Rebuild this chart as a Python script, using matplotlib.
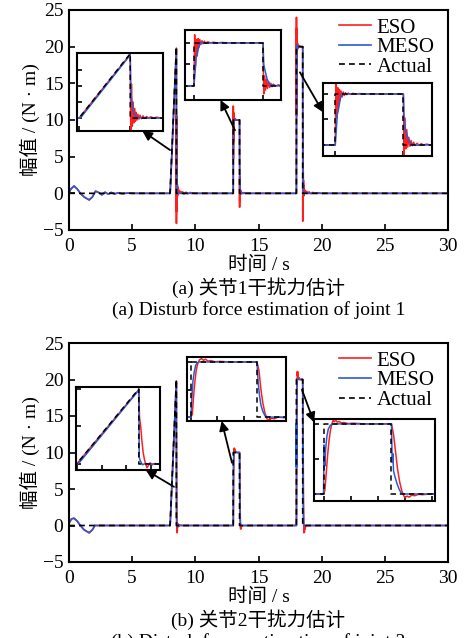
import matplotlib
matplotlib.use('Agg')
import matplotlib.pyplot as plt

plt.rcParams['font.family'] = ['Liberation Serif', 'Noto Sans CJK SC']
plt.rcParams['axes.unicode_minus'] = True

# ---- data ----
act_t = [0, 8.0, 8.5, 8.5, 13.0, 13.0, 13.5, 13.5, 18.0, 18.0, 18.5, 18.5, 30]
act_v = [0, 0, 20, 0, 0, 10, 10, 0, 0, 20, 20, 0, 0]

# joint 1
meso1_t = [0, 0.15, 0.4, 0.65, 0.9, 1.2, 1.6, 1.85, 2.1, 2.35, 2.6, 2.85, 3.1, 3.35, 3.6, 3.9, 4.2, 4.6, 5.2,
           8.0, 8.02, 8.5, 8.505, 8.51, 8.52, 8.53, 8.545, 8.56, 8.575, 8.6, 8.7,
           13.0, 13.01, 13.015, 13.02, 13.03, 13.04, 13.05, 13.07, 13.5, 13.505, 13.515, 13.53, 13.55, 13.6,
           18.0, 18.01, 18.015, 18.02, 18.03, 18.04, 18.05, 18.07, 18.5, 18.505, 18.51, 18.52, 18.535, 18.55,
           18.57, 18.6, 18.7, 18.8, 30]
meso1_v = [0, 0.6, 1.0, 0.6, 0.0, -0.5, -0.9, -0.5, 0.3, 0.1, -0.2, 0.15, -0.1, 0.12, -0.08, 0.08, -0.05, 0.03, 0,
           0, 0.3, 19.6, 10, 6.5, 4, 2.5, 1.0, 0.3, 0.0, 0.1, 0,
           0, 4, 6.5, 7, 8.5, 9.5, 10.1, 10, 10, 5, 3.5, 1.5, 0.3, 0,
           0, 8, 12, 13, 16, 19, 20.2, 20, 20, 10, 7, 5, 2.5, 0.8,
           0.1, -0.1, 0.1, 0, 0]
eso1_t = [0, 0.15, 0.4, 0.65, 0.9, 1.2, 1.6, 1.85, 2.1, 2.35, 2.6, 2.85, 3.1, 3.35, 3.6, 3.9, 4.2, 4.6, 5.2,
          8.0, 8.5, 8.505, 8.512, 8.52, 8.527, 8.535, 8.542, 8.55, 8.558, 8.566, 8.575, 8.585, 8.595, 8.61,
          8.625, 8.64, 8.66, 8.68, 8.7, 8.73, 8.76, 8.8, 8.85, 8.9, 9.0, 9.1, 9.25, 9.4, 9.6, 9.9,
          13.0, 13.005, 13.012, 13.018, 13.024, 13.03, 13.036, 13.042, 13.05, 13.058, 13.066, 13.075, 13.085,
          13.1, 13.12, 13.14, 13.17, 13.2, 13.25, 13.5,
          13.505, 13.512, 13.518, 13.525, 13.532, 13.54, 13.548, 13.556, 13.565, 13.575, 13.59, 13.61, 13.63,
          13.66, 13.7, 13.8, 14.0,
          18.0, 18.005, 18.012, 18.018, 18.024, 18.03, 18.036, 18.042, 18.05, 18.058, 18.066, 18.075, 18.085,
          18.095, 18.11, 18.13, 18.15, 18.18, 18.22, 18.26, 18.3, 18.5,
          18.505, 18.512, 18.518, 18.525, 18.532, 18.54, 18.548, 18.556, 18.565, 18.575, 18.585, 18.6, 18.615,
          18.63, 18.65, 18.67, 18.7, 18.73, 18.77, 18.82, 18.9, 19.0, 19.15, 19.3, 19.5, 19.7, 20.0, 30]
eso1_v = [0, 0.6, 1.0, 0.6, 0.0, -0.5, -0.9, -0.5, 0.3, 0.1, -0.2, 0.15, -0.1, 0.12, -0.08, 0.08, -0.05, 0.03, 0,
          0, 19.8, -4.1, 10.6, -2.5, 5, -1.5, 3, -1, 1.8, -0.6, 1.2, -0.3, 0.9, -0.2,
          0.7, -0.1, 0.5, 0.0, 0.4, 0.0, 0.3, 0.0, 0.25, 0.0, 0.2, -0.1, 0.15, -0.05, 0.1, 0,
          0, 11.9, 4.7, 10.8, 7, 11, 9, 10.8, 9.6, 10.5, 9.8, 10.4, 9.9,
          10.25, 10, 10.15, 10, 10.1, 10, 10,
          -1.9, 2.3, -1.0, 1.5, -0.6, 1.0, -0.4, 0.6, -0.2, 0.4, -0.1, 0.25, 0.0,
          0.15, 0, 0.1, 0,
          0, 24, 10.6, 22.5, 15, 21.8, 17.5, 21.2, 18.8, 20.8, 19.4, 20.5, 19.7,
          20.35, 19.85, 20.25, 19.95, 20.15, 20, 20.1, 20, 20,
          -3.8, 10.6, -1.5, 6, -0.8, 3, -0.5, 1.8, -0.3, 1.1, -0.2, 0.7, -0.1,
          0.5, 0.0, 0.35, 0.0, 0.3, 0.0, 0.25, 0.0, 0.2, -0.05, 0.12, 0.0, 0.08, 0, 0]

# joint 2
meso2_t = [0, 0.2, 0.4, 0.65, 0.9, 1.2, 1.6, 1.85, 2.05, 2.2,
           8.0, 8.02, 8.5, 8.503, 8.51, 8.52, 8.53, 8.55, 8.6,
           13.0, 13.008, 13.015, 13.025, 13.035, 13.045, 13.06, 13.5, 13.51, 13.52, 13.53, 13.545, 13.56, 13.58, 13.7,
           18.0, 18.004, 18.009, 18.016, 18.025, 18.035, 18.05, 18.07, 18.5, 18.505, 18.51, 18.515, 18.525,
           18.54, 18.555, 18.57, 18.59, 18.7, 30]
meso2_v = [0.3, 0.9, 1.0, 0.6, 0.0, -0.6, -1.0, -0.6, 0.0, 0.0,
           0, 0.3, 19.7, 1.8, 1.0, 0.3, -0.2, 0.1, 0,
           0, 4, 6.5, 8.2, 9.3, 9.8, 10.0, 10, 6, 3.8, 2.2, 1.0, 0.3, 0.0, 0,
           0, 14, 8, 13, 16.5, 18.5, 19.6, 20.0, 20, 9, 11.5, 6.6, 5,
           3, 1.5, 0.3, 0, 0, 0]
eso2_t = [0, 0.2, 0.4, 0.65, 0.9, 1.2, 1.6, 1.85, 2.05, 2.2,
          8.0, 8.5, 8.505, 8.515, 8.525, 8.535, 8.545, 8.555, 8.565, 8.575, 8.59, 8.61, 8.63, 8.66, 8.7,
          8.75, 8.8, 9.0,
          13.0, 13.01, 13.02, 13.03, 13.04, 13.05, 13.065, 13.08, 13.095, 13.11, 13.13, 13.15, 13.18, 13.22,
          13.3, 13.5, 13.515, 13.53, 13.545, 13.56, 13.575, 13.59, 13.61, 13.63, 13.66, 13.7, 13.8, 14.0,
          18.0, 18.01, 18.02, 18.03, 18.04, 18.05, 18.06, 18.07, 18.08, 18.09, 18.1, 18.115, 18.13, 18.15,
          18.18, 18.22, 18.3, 18.5, 18.515, 18.53, 18.545, 18.56, 18.575, 18.59, 18.6, 18.615, 18.63, 18.65,
          18.67, 18.7, 18.73, 18.78, 18.9, 30]
eso2_v = [0.3, 0.9, 1.0, 0.6, 0.0, -0.6, -1.0, -0.6, 0.0, 0.0,
          0, 19.8, 12.5, 10, 6, 3, 1.2, 0.0, -1.0, -0.5, 0.3, -0.2, 0.15, -0.1, 0.1,
          -0.05, 0.05, 0,
          0, 0.5, 3.8, 6.5, 8.5, 9.6, 10.4, 10.6, 10.3, 10.5, 10.15, 10.25, 10.05, 10.1,
          10, 10, 8.5, 5, 2.5, 0.8, -0.3, -0.5, -0.2, -0.3, 0.0, -0.1, 0, 0,
          0, 1, 6, 11, 15, 18, 19.8, 21.0, 20.6, 21.1, 20.5, 20.7, 20.3, 20.4,
          20.1, 20.2, 20, 20, 17, 12, 7, 3.5, 1, -0.5, -1.0, -0.6, -0.9, -0.3,
          -0.5, -0.1, -0.2, 0, 0, 0]

W, H = 466, 638
red = '#ff1f1f'
blue = '#2b5bd3'


def px_rect(x0, y0, x1, y1):
    # pixel box (top-left origin) -> figure fraction rect
    return [x0 / W, 1 - y1 / H, (x1 - x0) / W, (y1 - y0) / H]


def draw_lines(ax, eso_t, eso_v, meso_t, meso_v, lw=1.2):
    ax.plot(eso_t, eso_v, color=red, lw=lw, label='ESO')
    ax.plot(meso_t, meso_v, color=blue, lw=lw, label='MESO')
    ax.plot(act_t, act_v, color='k', lw=lw, ls=(0, (3.5, 2.5)), label='Actual')


def panel(rect, eso_t, eso_v, meso_t, meso_v, insets, arrows, cap_cn, cap_en, cap_y):
    ax = fig.add_axes(rect)
    draw_lines(ax, eso_t, eso_v, meso_t, meso_v)
    ax.set_xlim(0, 30)
    ax.set_ylim(-5, 25)
    ax.set_xticks([0, 5, 10, 15, 20, 25, 30])
    ax.set_yticks([-5, 0, 5, 10, 15, 20, 25])
    ax.tick_params(direction='in', length=4, width=1.2, labelsize=14)
    ax.tick_params(axis='x', pad=6)
    ax.tick_params(axis='y', pad=4)
    for s in ax.spines.values():
        s.set_linewidth(1.5)
    ax.set_xlabel('时间 / s', fontsize=14, labelpad=0)
    ax.set_ylabel('幅值 / (N · m)', fontsize=14, labelpad=2)
    ax.legend(loc='upper right', bbox_to_anchor=(1.0, 1.025), frameon=False, fontsize=15,
              handlelength=1.55, handletextpad=0.25, labelspacing=0.0, borderaxespad=0.25)

    ins_axes = []
    for box, xl, yl, xt, yt in insets:
        ia = fig.add_axes(px_rect(*box))
        draw_lines(ia, eso_t, eso_v, meso_t, meso_v, lw=1.1)
        ia.set_xlim(*xl)
        ia.set_ylim(*yl)
        ia.set_xticks(xt)
        ia.set_yticks(yt)
        ia.set_xticklabels([])
        ia.set_yticklabels([])
        ia.tick_params(direction='in', length=3.5, width=1.2)
        for s in ia.spines.values():
            s.set_linewidth(1.5)
        ins_axes.append(ia)

    for (tail, head), ia in zip(arrows, ins_axes):
        ax.annotate('', xy=head, xycoords=ia.transAxes, xytext=tail, textcoords='data',
                    arrowprops=dict(arrowstyle='-|>', color='k', lw=1.3, mutation_scale=14,
                                    shrinkA=0, shrinkB=0))

    cx = rect[0] + rect[2] / 2
    fig.text(cx, 1 - cap_y / H, cap_cn, fontsize=14, ha='center', va='center')
    fig.text(cx, 1 - (cap_y + 22) / H, cap_en, fontsize=14, ha='center', va='center')
    return ax


fig = plt.figure(figsize=(W / 100, H / 100), dpi=100)

panel(px_rect(69, 10, 448, 230), eso1_t, eso1_v, meso1_t, meso1_v,
      insets=[((77, 53, 163, 131), (7.98, 8.82), (-4.0, 20.2), [8.0, 8.5], [0, 5, 10, 15]),
              ((185, 30, 281, 100), (12.935, 13.63), (-3.3, 13.0), [13.0, 13.5], [0, 5, 10]),
              ((323, 83, 432, 156), (17.91, 18.71), (-4.3, 24.3), [18.0, 18.5], [0, 10, 20])],
      arrows=[((8.0, 5.9), (0.76, 0.0)),
              ((13.14, 8.6), (0.37, 0.0)),
              ((18.28, 16.5), (0.0, 0.6))],
      cap_cn='(a) 关节1干扰力估计', cap_en='(a) Disturb force estimation of joint 1', cap_y=288)

panel(px_rect(69, 343, 448, 562), eso2_t, eso2_v, meso2_t, meso2_v,
      insets=[((76, 387, 160, 470), (7.995, 8.67), (-1.6, 20.5), [8.0, 8.2, 8.4, 8.6], [0, 10, 20]),
              ((187, 357, 286, 421), (12.97, 13.72), (-0.7, 10.9), [13.0, 13.2, 13.4, 13.6], [0, 5, 10]),
              ((314, 419, 435, 501), (17.93, 18.82), (-2.0, 21.4), [18.0, 18.2, 18.4, 18.6, 18.8], [0, 10, 20])],
      arrows=[((8.31, 5.3), (0.83, 0.0)),
              ((12.9, 8.6), (0.35, 0.0)),
              ((18.44, 18.6), (0.0, 0.96))],
      cap_cn='(b) 关节2干扰力估计', cap_en='(b) Disturb force estimation of joint 2', cap_y=620)

fig.savefig('out.png', dpi=100)
